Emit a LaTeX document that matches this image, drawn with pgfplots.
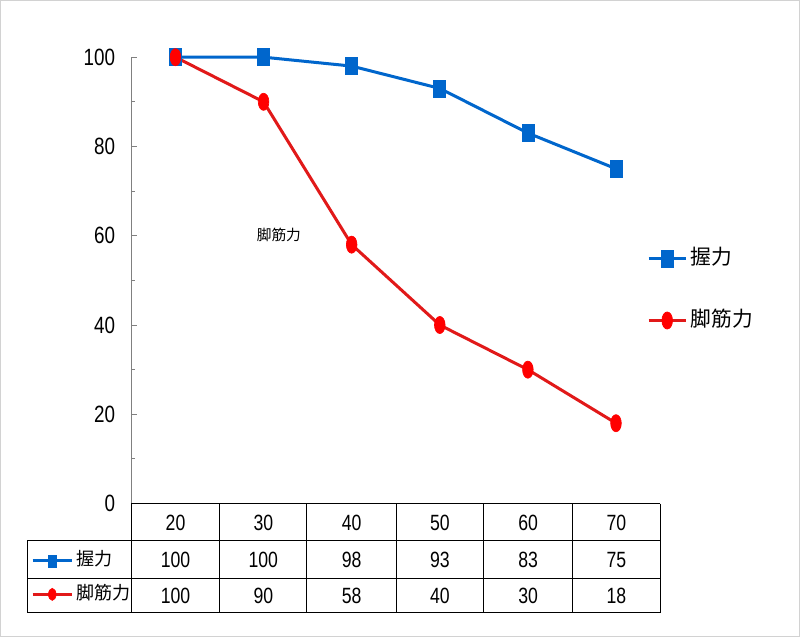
\documentclass[border=0pt]{standalone}
\usepackage{pgfplots}
\pgfplotsset{compat=1.18}
\usepackage{fontspec}
\setmainfont{Liberation Sans}[FakeStretch=0.8]
\newfontfamily\cjk{Noto Sans CJK JP}
\definecolor{gblue}{RGB}{0,102,204}
\definecolor{gred}{RGB}{225,25,25}
\definecolor{gmark}{RGB}{255,0,0}
\begin{document}
\begin{tikzpicture}[x=0.75pt,y=0.75pt]
\draw[gray!35, line width=0.75pt] (0.5,636.5) rectangle (797,2);
\begin{axis}[
  at={(98.25pt,101.25pt)}, anchor=south west, scale only axis,
  width=395.25pt, height=333.75pt,
  xmin=-0.5, xmax=5.5, ymin=0, ymax=100,
  clip=false,
  axis x line=none, axis y line*=left,
  y axis line style={draw=gray, line width=0.75pt, -},
  ytick={0,20,...,100}, minor y tick num=1,
  tick align=inside, major tick length=4.5pt, minor tick length=2.5pt,
  tick style={gray, line width=0.75pt},
  yticklabel style={font=\fontsize{17.6}{20}\selectfont, inner sep=0pt, xshift=-12pt},
  /pgf/number format/assume math mode=true,
  legend style={at={(0.975,0.479)}, anchor=west, draw=none, fill=none, inner sep=0pt,
    row sep=31pt, nodes={inner sep=0pt, text height=12pt, text depth=3pt, anchor=west},
    font=\cjk\fontsize{15.5}{18}\selectfont},
  legend cell align=left,
  legend image code/.code={\draw[mark repeat=2,mark phase=2] plot coordinates {(0pt,0pt)(13.9pt,0pt)(27.8pt,0pt)};},
]
\addplot[gblue, line width=2.25pt, mark=square*, mark size=6.4pt,
  mark options={xscale=0.7, line width=0.5pt, fill=gblue}]
  coordinates {(0,100)(1,100)(2,98)(3,93)(4,83)(5,75)};
\addlegendentry{\,握力}
\addplot[gred, line width=2.25pt, mark=*, mark size=6.4pt,
  mark options={xscale=0.62, line width=0.5pt, fill=gmark, draw=gmark}]
  coordinates {(0,100)(1,90)(2,58)(3,40)(4,30)(5,18)};
\addlegendentry{\,脚筋力}
\end{axis}
\begin{axis}[
  at={(98.25pt,101.25pt)}, anchor=south west, scale only axis,
  width=395.25pt, height=333.75pt,
  xmin=-0.5, xmax=5.5, ymin=0, ymax=100, hide axis,
  legend style={at={(-0.19,-0.166)}, anchor=west, draw=none, fill=none, inner sep=0pt,
    row sep=12pt, nodes={inner sep=0pt, text height=10pt, text depth=3pt, anchor=west},
    font=\cjk\fontsize{13.5}{16}\selectfont},
  legend cell align=left,
  legend image code/.code={\draw[mark repeat=2,mark phase=2] plot coordinates {(0pt,0pt)(14.6pt,0pt)(29.2pt,0pt)};},
]
\addlegendimage{gblue, line width=2.25pt, mark=square*, mark size=4.5pt, mark options={xscale=0.7, line width=0.5pt, fill=gblue}}
\addlegendentry{\,握力}
\addlegendimage{gred, line width=2.25pt, mark=*, mark size=4.5pt, mark options={xscale=0.62, line width=0.5pt, fill=gmark, draw=gmark}}
\addlegendentry{\,脚筋力}
\end{axis}
% stray label
\node[font=\cjk\fontsize{11}{13}\selectfont] at (278,403) {脚筋力};
% data table
\begin{scope}[line width=0.75pt]
\draw (131,135) -- (658,135);
\draw (27,98) -- (658,98);
\draw (27,60) -- (658,60);
\draw (27,26) -- (658,26);
\draw (27,98) -- (27,26);
\foreach \x in {131,219,306,395,482,571,658} \draw (\x,135) -- (\x,26);
\end{scope}
\begin{scope}[font=\fontsize{16.5}{19}\selectfont]
\foreach \x/\a/\b/\c in {175/20/100/100, 262.5/30/100/90, 350.5/40/98/58, 438.5/50/93/40, 526.5/60/83/30, 614.5/70/75/18} {
  \node at (\x,116) {\a};
  \node at (\x,79) {\b};
  \node at (\x,43) {\c};
}
\end{scope}
\end{tikzpicture}
\end{document}
